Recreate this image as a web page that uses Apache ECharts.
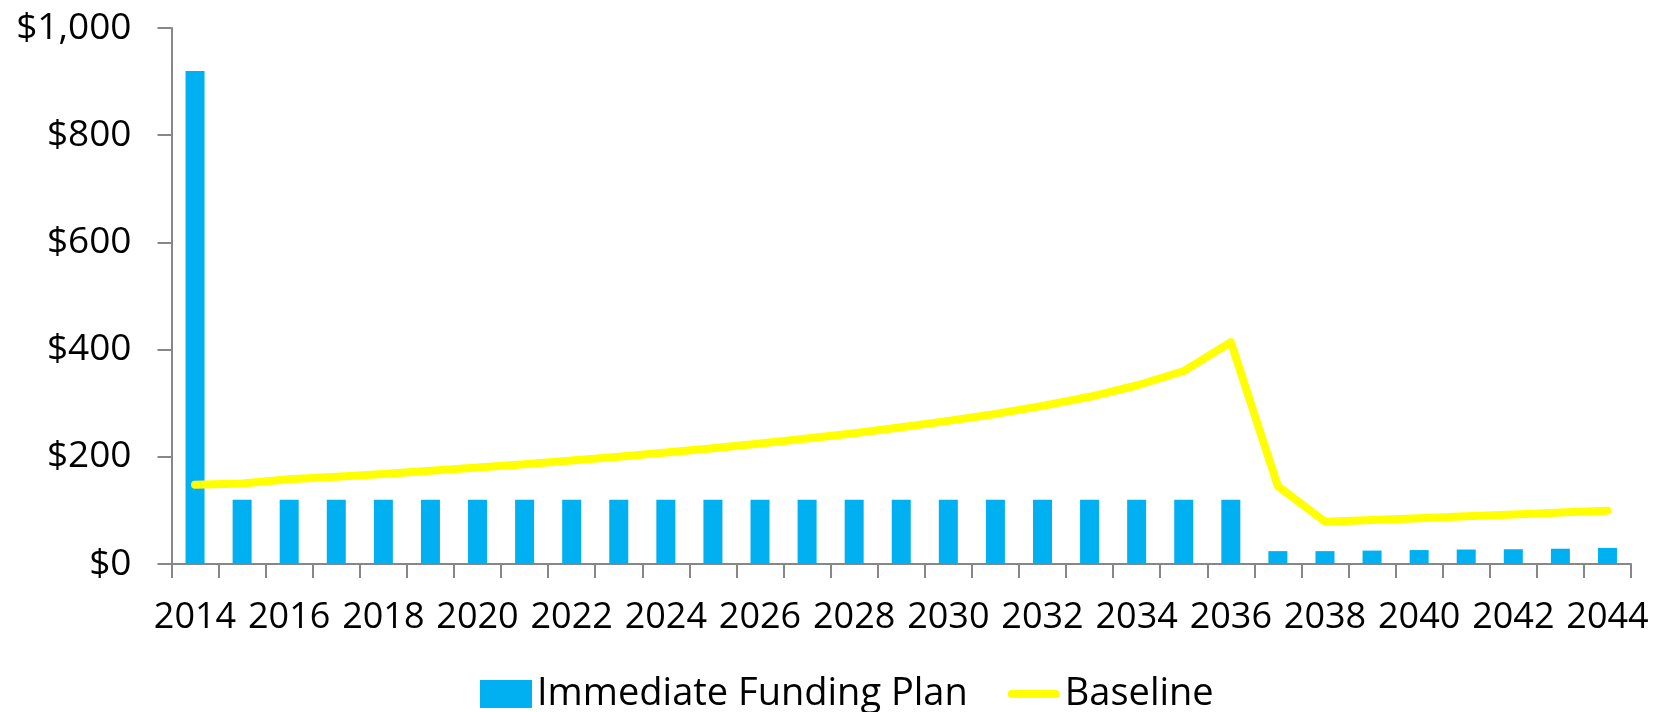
<!DOCTYPE html>
<html>
<head>
<meta charset="utf-8">
<script src="https://cdn.jsdelivr.net/npm/echarts@6/dist/echarts.min.js"></script>
<style>
  html, body { margin: 0; padding: 0; background: #fff; }
  #chart { width: 1665px; height: 712px; }
</style>
</head>
<body>
<div id="chart"></div>
<script>
  const years = []
  for (let y = 2014; y <= 2044; y++) years.push(String(y))

  // Immediate Funding Plan (bars)
  const fundingPlan = [
    920, 120, 120, 120, 120, 120, 120, 120, 120, 120,
    120, 120, 120, 120, 120, 120, 120, 120, 120, 120,
    120, 120, 120, 24, 24, 25, 26, 27, 27.5, 28.5, 30
  ]

  // Baseline (line)
  const baseline = [
    148, 150, 158, 163, 168, 174, 180, 186, 193, 200,
    208, 216, 225, 234, 244, 255, 267, 280, 295, 312,
    333, 360, 414, 145, 79, 82, 85.5, 89, 92.5, 96, 99.5
  ]

  const yTicks = { min: 0, max: 1000, interval: 200 }

  const font = 'Open Sans'
  const axisGrey = '#878787'

  let chart = echarts.init(document.getElementById('chart'))
  chart.setOption({
    animation: false,
    textStyle: { fontFamily: font },
    grid: {
      left: 171.5,
      right: 34,
      top: 28,
      bottom: 148,
      containLabel: false
    },
    legend: {
      left: 475,
      top: 670,
      itemWidth: 52,
      itemHeight: 28,
      itemGap: 40,
      textStyle: { fontSize: 38, color: '#000', fontFamily: font },
      data: [
        { name: 'Immediate Funding Plan', icon: 'rect' },
        { name: 'Baseline', icon: 'path://M4,0 H48 A4,4 0 0 1 48,8 H4 A4,4 0 0 1 4,0 Z' }
      ]
    },
    xAxis: {
      type: 'category',
      data: years,
      boundaryGap: true,
      axisLine: { lineStyle: { color: axisGrey, width: 2 } },
      axisTick: { show: true, interval: 0, length: 14, lineStyle: { color: axisGrey, width: 2 } },
      axisLabel: {
        interval: 1,
        margin: 36,
        fontSize: 36,
        color: '#000',
        fontFamily: font
      },
      splitLine: { show: false }
    },
    yAxis: {
      type: 'value',
      min: yTicks.min,
      max: yTicks.max,
      interval: yTicks.interval,
      axisLine: { show: true, lineStyle: { color: axisGrey, width: 2 } },
      axisTick: { show: true, length: 14, lineStyle: { color: axisGrey, width: 2 } },
      axisLabel: {
        margin: 40,
        fontSize: 37,
        color: '#000',
        fontFamily: font,
        formatter: v => '$' + v.toLocaleString('en-US')
      },
      splitLine: { show: false }
    },
    series: [
      {
        name: 'Immediate Funding Plan',
        type: 'bar',
        barWidth: 19,
        itemStyle: { color: '#00B0F0' },
        data: fundingPlan
      },
      {
        name: 'Baseline',
        type: 'line',
        symbol: 'none',
        smooth: false,
        z: 5,
        itemStyle: { color: '#FFFF00' },
        lineStyle: { color: '#FFFF00', width: 8, cap: 'round', join: 'round' },
        data: baseline
      }
    ]
  })
</script>
</body>
</html>
